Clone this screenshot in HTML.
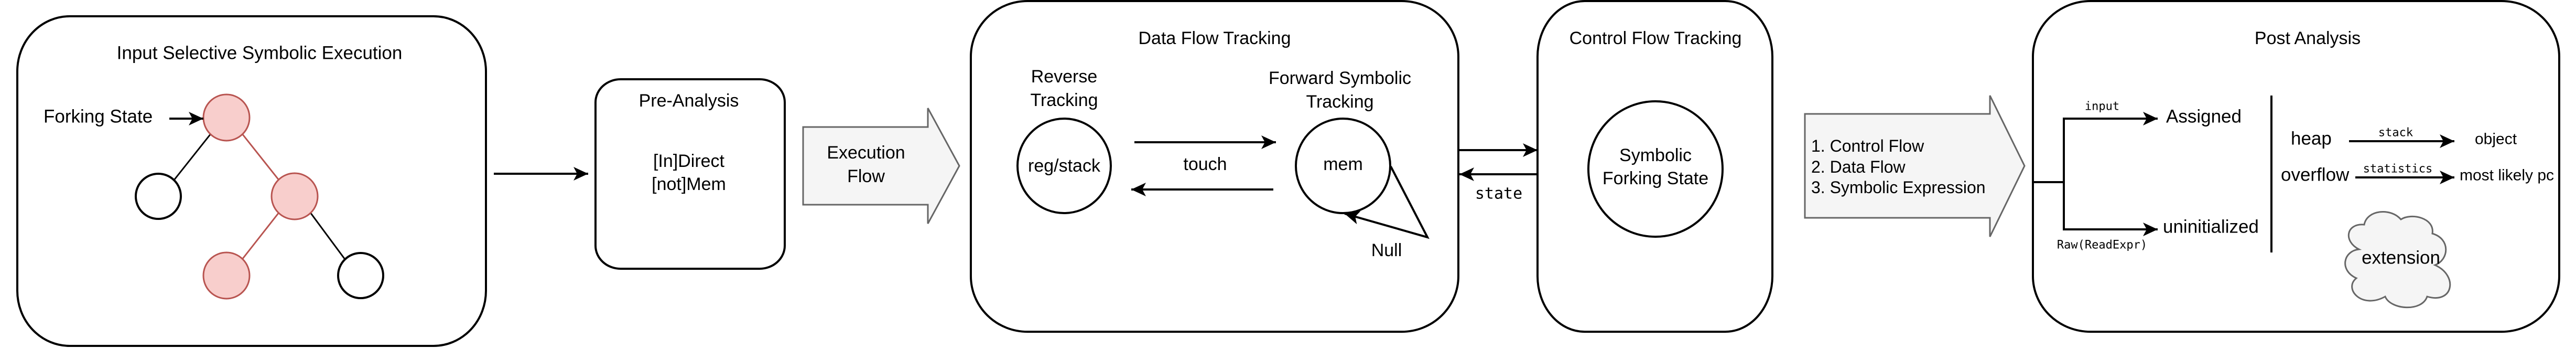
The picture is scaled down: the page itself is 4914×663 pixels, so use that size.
<!DOCTYPE html>
<html><head><meta charset="utf-8"><style>
html,body{margin:0;padding:0;background:#fff;}
svg{display:block;}
text{font-family:"Liberation Sans",Arial,sans-serif;fill:#000;}
.m{font-family:"DejaVu Sans Mono","Liberation Mono",monospace;}
</style></head><body>
<svg width="4914" height="663" viewBox="0 0 4914 663" xmlns="http://www.w3.org/2000/svg">
<defs>
<marker id="a" markerWidth="30" markerHeight="30" refX="28" refY="13" orient="auto" markerUnits="userSpaceOnUse">
<path d="M0,0 L28,13 L0,26 L7,13 Z" fill="#000"/>
</marker>
</defs>
<g fill="none" stroke="#000" stroke-width="4">
<rect x="33" y="31" width="894" height="628" rx="100" ry="105"/>
<rect x="1136" y="151" width="361" height="361" rx="48" ry="44"/>
<rect x="1852" y="2" width="930" height="630" rx="108" ry="106"/>
<rect x="2933" y="2" width="448" height="630" rx="90" ry="106"/>
<rect x="3878" y="2" width="1004" height="630" rx="110" ry="106"/>
</g>
<text x="495" y="101" font-size="35" text-anchor="middle" dominant-baseline="central">Input Selective Symbolic Execution</text>
<line x1="402" y1="255" x2="332" y2="343" stroke="#000" stroke-width="3"/>
<line x1="462" y1="255" x2="532" y2="343" stroke="#b85450" stroke-width="3"/>
<line x1="532" y1="405" x2="462" y2="494" stroke="#b85450" stroke-width="3"/>
<line x1="592" y1="405" x2="658" y2="494" stroke="#000" stroke-width="3"/>
<circle cx="432" cy="224" r="44" fill="#f8cecc" stroke="#b85450" stroke-width="3"/>
<circle cx="302" cy="374" r="43" fill="#fff" stroke="#000" stroke-width="4"/>
<circle cx="562" cy="374" r="44" fill="#f8cecc" stroke="#b85450" stroke-width="3"/>
<circle cx="432" cy="525" r="44" fill="#f8cecc" stroke="#b85450" stroke-width="3"/>
<circle cx="688" cy="525" r="43" fill="#fff" stroke="#000" stroke-width="4"/>
<text x="83" y="222" font-size="35" dominant-baseline="central">Forking State</text>
<line x1="323" y1="226" x2="388" y2="226" stroke="#000" stroke-width="4" marker-end="url(#a)"/>
<line x1="942" y1="331" x2="1122" y2="331" stroke="#000" stroke-width="4" marker-end="url(#a)"/>
<text x="1314" y="192" font-size="34" text-anchor="middle" dominant-baseline="central">Pre-Analysis</text>
<text x="1314" y="307" font-size="34" text-anchor="middle" dominant-baseline="central">[In]Direct</text>
<text x="1314" y="351" font-size="34" text-anchor="middle" dominant-baseline="central">[not]Mem</text>
<path d="M1532,242 L1770,242 L1770,206 L1830,316 L1770,426 L1770,390 L1532,390 Z" fill="#f5f5f5" stroke="#666" stroke-width="3"/>
<text x="1652" y="291" font-size="34" text-anchor="middle" dominant-baseline="central">Execution</text>
<text x="1652" y="336" font-size="34" text-anchor="middle" dominant-baseline="central">Flow</text>
<text x="2317" y="73" font-size="34" text-anchor="middle" dominant-baseline="central">Data Flow Tracking</text>
<text x="2030" y="146" font-size="34" text-anchor="middle" dominant-baseline="central">Reverse</text>
<text x="2030" y="191" font-size="34" text-anchor="middle" dominant-baseline="central">Tracking</text>
<text x="2556" y="149" font-size="34" text-anchor="middle" dominant-baseline="central">Forward Symbolic</text>
<text x="2556" y="194" font-size="34" text-anchor="middle" dominant-baseline="central">Tracking</text>
<ellipse cx="2030" cy="316" rx="89" ry="90" fill="none" stroke="#000" stroke-width="4"/>
<ellipse cx="2562" cy="316" rx="90" ry="90" fill="none" stroke="#000" stroke-width="4"/>
<text x="2030" y="316" font-size="34" text-anchor="middle" dominant-baseline="central">reg/stack</text>
<text x="2562" y="313" font-size="34" text-anchor="middle" dominant-baseline="central">mem</text>
<line x1="2164" y1="271" x2="2434" y2="271" stroke="#000" stroke-width="4" marker-end="url(#a)"/>
<line x1="2429" y1="361" x2="2158" y2="361" stroke="#000" stroke-width="4" marker-end="url(#a)"/>
<text x="2299" y="313" font-size="34" text-anchor="middle" dominant-baseline="central">touch</text>
<polyline points="2653,317 2723,452 2565,407" fill="none" stroke="#000" stroke-width="4" marker-end="url(#a)"/>
<text x="2645" y="477" font-size="34" text-anchor="middle" dominant-baseline="central">Null</text>
<line x1="2784" y1="286" x2="2933" y2="286" stroke="#000" stroke-width="4" marker-end="url(#a)"/>
<line x1="2933" y1="332" x2="2784" y2="332" stroke="#000" stroke-width="4" marker-end="url(#a)"/>
<text class="m" x="2859" y="369" font-size="30" text-anchor="middle" dominant-baseline="central">state</text>
<text x="3158" y="73" font-size="34" text-anchor="middle" dominant-baseline="central">Control Flow Tracking</text>
<ellipse cx="3158" cy="322" rx="128" ry="129" fill="none" stroke="#000" stroke-width="4"/>
<text x="3158" y="296" font-size="34" text-anchor="middle" dominant-baseline="central">Symbolic</text>
<text x="3158" y="340" font-size="34" text-anchor="middle" dominant-baseline="central">Forking State</text>
<path d="M3443,217 L3796,217 L3796,182 L3862,316 L3796,451 L3796,415 L3443,415 Z" fill="#f5f5f5" stroke="#666" stroke-width="3"/>
<text x="3455" y="278" font-size="32" dominant-baseline="central">1. Control Flow</text>
<text x="3455" y="318" font-size="32" dominant-baseline="central">2. Data Flow</text>
<text x="3455" y="357" font-size="32" dominant-baseline="central">3. Symbolic Expression</text>
<text x="4402" y="73" font-size="34" text-anchor="middle" dominant-baseline="central">Post Analysis</text>
<polyline points="3878,347 3937,347" fill="none" stroke="#000" stroke-width="4"/>
<polyline points="4116,226 3937,226 3937,437 4116,437" fill="none" stroke="#000" stroke-width="4"/>
<line x1="4100" y1="226" x2="4116" y2="226" stroke="#000" stroke-width="4" marker-end="url(#a)"/>
<line x1="4100" y1="437" x2="4116" y2="437" stroke="#000" stroke-width="4" marker-end="url(#a)"/>
<text class="m" x="4010" y="203" font-size="22" text-anchor="middle" dominant-baseline="central">input</text>
<text class="m" x="4010" y="467" font-size="22" text-anchor="middle" dominant-baseline="central">Raw(ReadExpr)</text>
<text x="4132" y="222" font-size="35" dominant-baseline="central">Assigned</text>
<text x="4126" y="432" font-size="35" dominant-baseline="central">uninitialized</text>
<line x1="4333" y1="182" x2="4333" y2="481" stroke="#000" stroke-width="4"/>
<text x="4370" y="264" font-size="35" dominant-baseline="central">heap</text>
<line x1="4481" y1="269" x2="4682" y2="269" stroke="#000" stroke-width="4" marker-end="url(#a)"/>
<text class="m" x="4570" y="253" font-size="22" text-anchor="middle" dominant-baseline="central">stack</text>
<text x="4721" y="265" font-size="30" dominant-baseline="central">object</text>
<text x="4351" y="333" font-size="35" dominant-baseline="central">overflow</text>
<line x1="4493" y1="338" x2="4682" y2="338" stroke="#000" stroke-width="4" marker-end="url(#a)"/>
<text class="m" x="4574" y="322" font-size="22" text-anchor="middle" dominant-baseline="central">statistics</text>
<text x="4692" y="334" font-size="30" dominant-baseline="central">most likely pc</text>
<path d="M4500,475 C4470,460 4475,425 4510,428 C4515,400 4560,395 4580,418 C4600,405 4645,415 4640,445 C4675,455 4672,495 4645,505 C4690,525 4680,580 4630,565 C4620,595 4560,590 4550,565 C4505,590 4470,550 4495,530 C4462,515 4470,478 4500,475 Z" fill="#f5f5f5" stroke="#666" stroke-width="3"/>
<text x="4580" y="491" font-size="35" text-anchor="middle" dominant-baseline="central" fill="#333">extension</text>
</svg>
</body></html>
